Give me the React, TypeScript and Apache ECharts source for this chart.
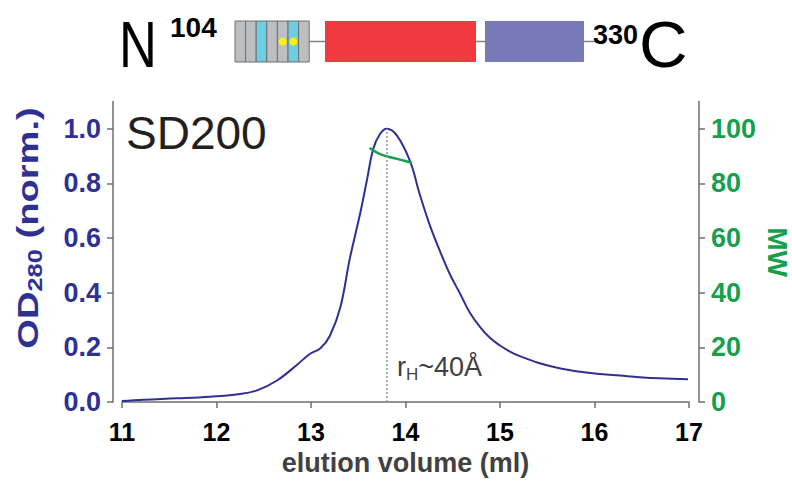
import React, { useEffect, useRef } from "react";
import * as echarts from "echarts";

// ---- data ----
const volume = [11.0, 11.23, 11.58, 11.93, 12.21, 12.43, 12.64, 12.85, 12.99, 13.1, 13.2, 13.31, 13.41, 13.52, 13.59, 13.66, 13.73, 13.8, 13.91, 14.05, 14.15, 14.26, 14.37, 14.47, 14.58, 14.68, 14.79, 14.89, 15.0, 15.1, 15.21, 15.42, 15.64, 15.85, 16.06, 16.27, 16.48, 16.69, 16.99];
const od280 = [0.004, 0.009, 0.014, 0.02, 0.028, 0.043, 0.079, 0.136, 0.177, 0.197, 0.243, 0.346, 0.524, 0.69, 0.809, 0.928, 0.981, 1.0, 0.975, 0.88, 0.761, 0.645, 0.548, 0.468, 0.395, 0.328, 0.274, 0.236, 0.207, 0.186, 0.168, 0.142, 0.123, 0.111, 0.103, 0.097, 0.091, 0.087, 0.084];
const mwVolume = [13.62, 13.69, 13.76, 13.84, 13.91, 13.99, 14.07];
const mwValues = [93.0, 91.5, 90.4, 89.6, 89.0, 88.3, 87.6];
const odTicks = [0, 0.2, 0.4, 0.6, 0.8, 1.0];
const mwTicks = [0, 20, 40, 60, 80, 100];
const peakVolume = 13.8;
const peakOD = 1.0;
const rhLabelAt = [13.91, 0.13];
const columnName = "SD200";
const domainCells = ["g", "g", "c", "g", "g", "c", "g"];
const startResidue = "104";
const endResidue = "330";

const FONT = "'Liberation Sans', Arial, Helvetica, sans-serif";
const NAVY = "#2e3192";
const GREEN = "#17a04b";
const AXIS = "#6d6e71";
const DARK = "#231f20";

export default function App() {
  const ref = useRef<HTMLDivElement>(null);
  useEffect(() => {
    if (!ref.current) return;
    const chart = echarts.init(ref.current, null, { renderer: "svg" });

    const cellW = 10.6;
    const boxX = 235;
    const boxY = 21;
    const boxH = 41;
    const midY = boxY + boxH / 2;
    const graphics: any[] = [
      { type: "line", shape: { x1: 300, y1: midY, x2: 596, y2: midY }, style: { stroke: "#808285", lineWidth: 1.5 } },
      ...domainCells.map((c, i) => ({
        type: "rect",
        shape: { x: boxX + i * cellW, y: boxY, width: cellW, height: boxH },
        style: { fill: c === "c" ? "#6dcde3" : "#bcbec0", stroke: "#6d6e71", lineWidth: 1 },
      })),
      { type: "circle", shape: { cx: 282.7, cy: midY, r: 4 }, style: { fill: "#fff200" } },
      { type: "circle", shape: { cx: 293.3, cy: midY, r: 4 }, style: { fill: "#fff200" } },
      { type: "rect", shape: { x: 325, y: boxY, width: 151, height: boxH }, style: { fill: "#ef3b40" } },
      { type: "rect", shape: { x: 485, y: boxY, width: 99, height: boxH }, style: { fill: "#7779b9" } },
      { type: "text", x: 119, y: 45, scaleX: 0.82, style: { text: "N", fontSize: 64, fontFamily: FONT, fill: "#000", verticalAlign: "middle" } },
      { type: "text", x: 170, y: 27, style: { text: startResidue, fontSize: 28, fontWeight: "bold", fontFamily: FONT, fill: "#000", verticalAlign: "middle" } },
      { type: "text", x: 593, y: 35, style: { text: endResidue, fontSize: 27, fontWeight: "bold", fontFamily: FONT, fill: "#000", verticalAlign: "middle" } },
      { type: "text", x: 639, y: 45, scaleX: 1.05, style: { text: "C", fontSize: 64, fontFamily: FONT, fill: "#000", verticalAlign: "middle" } },
      { type: "text", x: 126, y: 133, style: { text: columnName, fontSize: 46, fontFamily: FONT, fill: DARK, verticalAlign: "middle" } },
      {
        type: "text",
        x: 28,
        y: 228,
        rotation: Math.PI / 2,
        scaleX: 1.27,
        style: {
          text: "{b|OD}{s|280}{b| (norm.)}",
          align: "center",
          verticalAlign: "middle",
          rich: {
            b: { fontSize: 30, fontWeight: "bold", fontFamily: FONT, fill: NAVY, lineHeight: 34 },
            s: { fontSize: 20, fontWeight: "bold", fontFamily: FONT, fill: NAVY, verticalAlign: "bottom", lineHeight: 20 },
          },
        },
      },
      {
        type: "text",
        x: 777,
        y: 252,
        rotation: -Math.PI / 2,
        style: { text: "MW", fontSize: 28, fontWeight: "bold", fontFamily: FONT, fill: GREEN, align: "center", verticalAlign: "middle" },
      },
    ];

    const tickLabel = (color: string, size: number) => ({ color, fontSize: size, fontWeight: "bold" as const, fontFamily: FONT });

    chart.setOption({
      animation: false,
      grid: { left: 122, right: 103, top: 101.5, bottom: 70.5 },
      xAxis: {
        type: "value",
        min: 11,
        max: 17,
        interval: 1,
        axisLine: { show: true, lineStyle: { color: AXIS, width: 1.5 } },
        axisTick: { show: true, length: 6, lineStyle: { color: AXIS, width: 1.5 } },
        splitLine: { show: false },
        axisLabel: { ...tickLabel("#000", 25), margin: 17 },
        name: "elution volume (ml)",
        nameLocation: "middle",
        nameGap: 46,
        nameTextStyle: { color: "#414042", fontSize: 27, fontWeight: "bold", fontFamily: FONT },
      },
      yAxis: [
        {
          type: "value",
          min: 0,
          max: 1.1,
          position: "left",
          offset: 9,
          axisLine: { show: true, lineStyle: { color: AXIS, width: 1.5 } },
          axisTick: { show: true, length: 6, customValues: odTicks, lineStyle: { color: AXIS, width: 1.5 } },
          splitLine: { show: false },
          axisLabel: { ...tickLabel(NAVY, 27), margin: 12, customValues: odTicks, formatter: (v: number) => v.toFixed(1) },
        },
        {
          type: "value",
          min: 0,
          max: 110,
          position: "right",
          offset: 10,
          axisLine: { show: true, lineStyle: { color: AXIS, width: 1.5 } },
          axisTick: { show: true, length: 6, customValues: mwTicks, lineStyle: { color: AXIS, width: 1.5 } },
          splitLine: { show: false },
          axisLabel: { ...tickLabel(GREEN, 27), margin: 12, customValues: mwTicks },
        },
      ],
      series: [
        {
          type: "line",
          data: volume.map((v, i) => [v, od280[i]]),
          showSymbol: false,
          smooth: 0.4,
          lineStyle: { color: NAVY, width: 2 },
          itemStyle: { color: NAVY },
          z: 3,
          markLine: {
            silent: true,
            symbol: ["none", "none"],
            label: { show: false },
            lineStyle: { color: "#939598", type: [2, 2], width: 1.5 },
            data: [[{ coord: [peakVolume, 0] }, { coord: [peakVolume, peakOD] }]],
          },
          markPoint: {
            symbol: "circle",
            symbolSize: 0,
            data: [{ coord: rhLabelAt }],
            label: {
              show: true,
              position: "right",
              distance: 0,
              formatter: "{r|r}{h|H}{r|~40Å}",
              rich: {
                r: { fontSize: 27, fontFamily: FONT, color: "#414042", lineHeight: 32 },
                h: { fontSize: 17, fontFamily: FONT, color: "#414042", verticalAlign: "bottom", lineHeight: 17 },
              },
            },
          },
        },
        {
          type: "line",
          yAxisIndex: 1,
          data: mwVolume.map((v, i) => [v, mwValues[i]]),
          showSymbol: false,
          smooth: 0.4,
          lineStyle: { color: GREEN, width: 2.5 },
          itemStyle: { color: GREEN },
          z: 4,
        },
      ],
      graphic: graphics,
    });
    return () => chart.dispose();
  }, []);
  return <div ref={ref} style={{ width: 792, height: 481, position: "absolute", left: 0, top: 0, background: "#fff" }} />;
}
